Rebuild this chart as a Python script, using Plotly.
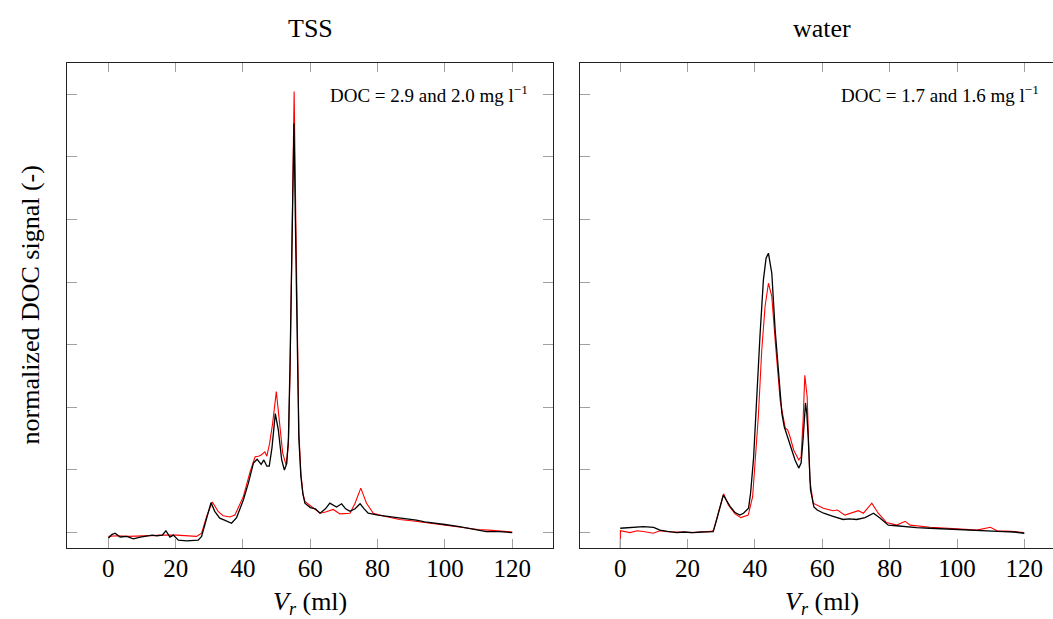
import plotly.graph_objects as go

# TSS panel (left)
tss_v_red = [0, 2.5, 6, 10, 14, 17, 20.3, 23, 26.2, 27.7, 29.2, 30.9, 32.6, 34.1, 36.1, 37.6,
             40.1, 42.1, 43.6, 44.6, 45.4, 46.5, 47.1, 47.9, 48.8, 49.9, 50.8, 51.8, 52.8, 53.5,
             54.0, 54.6, 55.2, 55.7, 56.2, 56.6, 57.2, 57.8, 58.4, 60.9, 62.9, 64.5, 66.8, 68.8,
             71.8, 73.3, 75.0, 76.7, 78.7, 82, 86.5, 90, 94.4, 100, 104.3, 107.5, 109.8, 113,
             116.2, 120]
tss_red = [-0.06, -0.05, -0.06, -0.05, -0.05, -0.04, -0.04, -0.05, -0.06, -0.01, 0.26, 0.49,
           0.34, 0.27, 0.25, 0.28, 0.575, 0.97, 1.21, 1.22, 1.24, 1.29, 1.22, 1.42, 1.74, 2.25,
           1.8, 1.27, 1.08, 1.4, 2.6, 5.0, 7.04, 5.0, 2.6, 1.6, 0.95, 0.62, 0.5, 0.39, 0.31,
           0.33, 0.37, 0.30, 0.31, 0.47, 0.71, 0.47, 0.31, 0.26, 0.21, 0.19, 0.16, 0.12, 0.085,
           0.06, 0.05, 0.04, 0.03, 0.01]

tss_v_black = [0, 1.0, 2.0, 3.5, 5.5, 7.4, 9.5, 11.4, 13, 14.4, 16, 17.1, 18.3, 19.3, 20.8, 23.3,
               25, 26.7, 27.7, 29.0, 30.5, 31.6, 33.1, 34.5, 35.6, 36.6, 38.1, 40.1, 41.6, 43.1,
               44.2, 45.4, 46.2, 47.1, 47.8, 48.6, 49.6, 50.5, 51.5, 52.3, 53.0, 53.5, 54.0, 54.6,
               55.15, 55.7, 56.2, 56.6, 57.2, 57.8, 58.4, 60.0, 61.5, 62.9, 64.5, 65.8, 67.8, 69.3,
               70.5, 71.8, 73.3, 74.8, 76.0, 77.2, 80.1, 83, 86.5, 89, 91.5, 94, 96.4, 100, 104.3,
               107, 109.3, 112.3, 116.2, 120]
tss_black = [-0.09, -0.03, -0.01, -0.07, -0.06, -0.1, -0.07, -0.06, -0.04, -0.05, -0.04, 0.03,
             -0.07, -0.04, -0.12, -0.13, -0.12, -0.12, -0.06, 0.18, 0.48, 0.34, 0.23, 0.2, 0.18,
             0.15, 0.24, 0.52, 0.79, 1.11, 1.17, 1.09, 1.16, 1.06, 1.06, 1.35, 1.9, 1.64, 1.16,
             1.0, 1.1, 1.5, 2.75, 4.8, 6.53, 4.5, 2.48, 1.5, 0.9, 0.62, 0.47, 0.4, 0.38, 0.31,
             0.38, 0.47, 0.41, 0.46, 0.38, 0.34, 0.38, 0.46, 0.38, 0.31, 0.28, 0.26, 0.23, 0.22,
             0.2, 0.17, 0.15, 0.13, 0.096, 0.07, 0.04, 0.016, 0.016, 0.0]

# water panel (right)
water_v_red = [0, 0.05, 2.9, 5, 6.9, 9.8, 11.8, 14, 17.8, 21, 24, 27.0, 27.7, 29.2, 30.7, 32.1,
               34.1, 35.8, 37.0, 38.0, 39.3, 40.5, 41.0, 42.0, 43.0, 44.0, 45.0, 46.0, 47.5, 49.0,
               49.7, 50.3, 51.5, 53.0, 53.7, 54.3, 54.8, 55.5, 56.3, 57.3, 60.3, 63.2, 64.5, 66.7,
               68.5, 70.7, 72.2, 74.7, 76.6, 79.1, 82.1, 84.6, 86.1, 92, 100, 105.9, 109.9, 111.9,
               116, 119.8]
water_red = [-0.3, 0.03, 0.0, 0.03, 0.017, -0.01, 0.03, 0.015, 0.01, 0.0, 0.01, 0.02, 0.04, 0.34,
             0.62, 0.44, 0.3, 0.24, 0.26, 0.28, 0.57, 1.37, 1.85, 2.9, 3.61, 3.98, 3.77, 3.07, 2.1,
             1.67, 1.64, 1.55, 1.32, 1.16, 1.21, 1.8, 2.51, 2.17, 0.84, 0.47, 0.39, 0.35, 0.36,
             0.28, 0.31, 0.35, 0.31, 0.47, 0.31, 0.16, 0.12, 0.18, 0.12, 0.085, 0.06, 0.04, 0.085,
             0.03, 0.02, 0.0]

water_v_black = [0, 2.5, 5, 6.9, 9.9, 11.8, 14, 16.8, 19, 21.7, 24, 26.7, 27.6, 28.6, 30.6, 32.6,
                 34.1, 35.5, 36.6, 38.1, 38.7, 39.6, 40.0, 40.6, 41.5, 42.5, 43.3, 44.0, 45.0, 46.0,
                 47.0, 47.5, 48.0, 48.7, 49.5, 50.5, 51.9, 53.0, 53.7, 54.3, 55.0, 55.4, 55.8, 56.5,
                 57.5, 58.5, 60.4, 63.2, 66.2, 68, 70.2, 72.7, 75.2, 77.2, 79.6, 82, 84.1, 88, 92,
                 96, 100, 104, 107.9, 111, 113.8, 117, 120]
water_black = [0.07, 0.08, 0.1, 0.096, 0.085, 0.04, 0.02, 0.0, 0.01, 0.0, 0.01, 0.017, 0.015, 0.2,
               0.6, 0.42, 0.32, 0.28, 0.31, 0.39, 0.63, 1.2, 1.64, 2.1, 3.15, 4.03, 4.38, 4.46,
               4.14, 3.23, 2.54, 2.17, 1.9, 1.69, 1.55, 1.37, 1.16, 1.03, 1.11, 1.5, 2.07, 1.9,
               1.53, 0.68, 0.41, 0.36, 0.31, 0.26, 0.21, 0.22, 0.21, 0.24, 0.31, 0.23, 0.12, 0.11,
               0.096, 0.08, 0.07, 0.06, 0.04, 0.04, 0.03, 0.02, 0.017, 0.01, -0.01]

x_ticks = [0, 20, 40, 60, 80, 100, 120]
y_ticks = [0, 1, 2, 3, 4, 5, 6, 7]
panel_titles = ["TSS", "water"]
doc_labels = ["DOC = 2.9 and 2.0 mg l<sup>\u22121</sup>",
              "DOC = 1.7 and 1.6 mg l<sup>\u22121</sup>"]

FONT = "Liberation Serif"
W, H = 1053, 619

fig = go.Figure()
fig.add_trace(go.Scatter(x=tss_v_red, y=tss_red, mode="lines",
                         line=dict(color="red", width=1.1), xaxis="x", yaxis="y"))
fig.add_trace(go.Scatter(x=tss_v_black, y=tss_black, mode="lines",
                         line=dict(color="black", width=1.3), xaxis="x", yaxis="y"))
fig.add_trace(go.Scatter(x=water_v_red, y=water_red, mode="lines",
                         line=dict(color="red", width=1.1), xaxis="x2", yaxis="y2"))
fig.add_trace(go.Scatter(x=water_v_black, y=water_black, mode="lines",
                         line=dict(color="black", width=1.3), xaxis="x2", yaxis="y2"))

xcommon = dict(tickvals=x_ticks, ticks="inside", ticklen=9, tickcolor="#a0a0a0", tickwidth=1,
               showline=True, linecolor="#222", linewidth=1.2, mirror="ticks",
               showgrid=False, zeroline=False, tickfont=dict(size=25, family=FONT),
               ticklabelstandoff=-2)
ycommon = dict(tickvals=y_ticks, ticks="inside", ticklen=10, tickcolor="#a0a0a0", tickwidth=1,
               showline=True, linecolor="#222", linewidth=1.2, showticklabels=False,
               showgrid=False, zeroline=False, range=[-0.25, 7.5])

fig.update_layout(
    width=W, height=H,
    margin=dict(l=0, r=0, t=0, b=0),
    paper_bgcolor="white", plot_bgcolor="white",
    showlegend=False,
    font=dict(family=FONT, color="black", size=25),
    xaxis=dict(xcommon, domain=[67.3 / W, 553.3 / W], range=[-12.2, 132.2], anchor="y"),
    yaxis=dict(ycommon, domain=[1 - 548.3 / H, 1 - 62.7 / H], anchor="x", mirror="ticks"),
    xaxis2=dict(xcommon, domain=[579.5 / W, 1.0], range=[-12.1, 128.5], anchor="y2"),
    yaxis2=dict(ycommon, domain=[1 - 548.3 / H, 1 - 62.7 / H], anchor="x2", mirror=False),
)

annotations = []
for cx, title in zip([310, 822], panel_titles):
    annotations.append(dict(text=title, x=cx / W, y=1 - 28 / H, xref="paper", yref="paper",
                            showarrow=False, xanchor="center", yanchor="middle",
                            font=dict(size=26)))
    annotations.append(dict(text="<i>V</i><sub><i>r</i></sub> (ml)", x=cx / W, y=1 - 603 / H,
                            xref="paper", yref="paper", showarrow=False,
                            xanchor="center", yanchor="middle", font=dict(size=26)))
for rx, lab in zip([530, 1041], doc_labels):
    annotations.append(dict(text=lab, x=rx / W, y=1 - 94 / H, xref="paper", yref="paper",
                            showarrow=False, xanchor="right", yanchor="middle",
                            font=dict(size=19)))
annotations.append(dict(text="normalized DOC signal (-)", x=30 / W, y=1 - 305.5 / H,
                        xref="paper", yref="paper", showarrow=False, textangle=-90,
                        xanchor="center", yanchor="middle", font=dict(size=26)))
fig.update_layout(annotations=annotations)

fig.write_html("out.html", config={"displayModeBar": False},
               post_script="document.body.style.margin='0';document.body.style.overflow='hidden';")
